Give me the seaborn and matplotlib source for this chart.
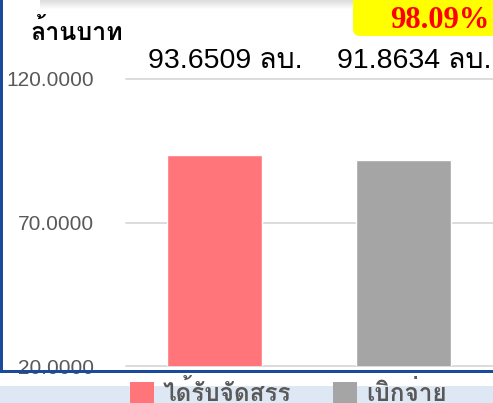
import matplotlib
matplotlib.use("Agg")
import matplotlib.pyplot as plt
import seaborn as sns
import pandas as pd
from matplotlib import font_manager as fm
from matplotlib.ft2font import FT2Font
from matplotlib.patches import Rectangle, FancyBboxPatch, Patch
from matplotlib.transforms import IdentityTransform

# ---- data ----
categories = ["ได้รับจัดสรร", "เบิกจ่าย"]
values = [93.6509, 91.8634]
value_labels = ["93.6509 ลบ.", "91.8634 ลบ."]
yticks = [20, 70, 120]
ytick_labels = ["20.0000", "70.0000", "120.0000"]
percent_label = "98.09%"
unit_label = "ล้านบาท"
colors = ["#FF7579", "#A5A5A5"]

# ---- find a Thai-capable font ----
thai_font = None
for f in fm.fontManager.ttflist:
    try:
        if 0x0E25 in FT2Font(f.fname).get_charmap():
            thai_font = f.name
            break
    except Exception:
        pass
fam = ["Liberation Sans"] + ([thai_font] if thai_font else []) + ["DejaVu Sans"]

sns.set_theme(style="white")
plt.rcParams["font.family"] = fam

W, H = 493, 403
fig = plt.figure(figsize=(W / 100, H / 100), dpi=100)
fig.patch.set_facecolor("white")

def px(x0, y0, w, h):
    return [x0 / W, 1 - (y0 + h) / H, w / W, h / H]

# legend background (light blue)
fig.add_artist(Rectangle((0, 0), 1, (H - 386) / H, transform=fig.transFigure,
                         facecolor="#DEE8F4", edgecolor="none", zorder=0))
# top shadow
for i in range(9):
    fig.add_artist(Rectangle((40 / W, 1 - (i + 1) / H), 318 / W, 1 / H,
                             transform=fig.transFigure, facecolor="#909090",
                             alpha=0.3 * (1 - i / 9), edgecolor="none", zorder=0))

ax = fig.add_axes(px(126, 79, 372, 287))
df = pd.DataFrame({"cat": categories, "val": values})
sns.barplot(data=df, x="cat", y="val", hue="cat", palette=colors, width=0.5,
            saturation=1, legend=False, ax=ax, zorder=3)
ax.set_xlim(-0.468, 1.5)
ax.set_ylim(20, 120)
ax.set_yticks(yticks)
ax.set_yticklabels(ytick_labels, color="#595959", fontsize=15)
ax.tick_params(axis="y", length=0, pad=23)
ax.set_xticks([])
ax.set_xlabel("")
ax.set_ylabel("")
for s in ax.spines.values():
    s.set_visible(False)
for yv in yticks:
    ax.axhline(yv, color="#D9D9D9", lw=1.3, zorder=1, clip_on=False)
ax.set_facecolor("none")

for i, lab in enumerate(value_labels):
    ax.text(i + 0.055, 123.8, lab, ha="center", va="baseline", fontsize=20.5,
            color="black", clip_on=False)

fig.text(30 / W, 1 - 40 / H, unit_label, ha="left", va="baseline",
         fontsize=18, fontweight="bold", color="black")

# blue frame
fig.add_artist(Rectangle((0, 1 - 373 / H), 3 / W, 373 / H, transform=fig.transFigure,
                         facecolor="#1A4A9C", edgecolor="none", zorder=5))
fig.add_artist(Rectangle((0, 1 - 373 / H), 1, 3 / H, transform=fig.transFigure,
                         facecolor="#1A4A9C", edgecolor="none", zorder=5))

# yellow badge
badge = FancyBboxPatch((353, H - 36), 220, 120, boxstyle="round,pad=0,rounding_size=7",
                       transform=IdentityTransform(), facecolor="#FFFF00",
                       edgecolor="none", zorder=6)
fig.add_artist(badge)
fig.text(440 / W, 1 - 28 / H, percent_label, ha="center", va="baseline",
         fontsize=22, fontweight="bold", color="#FF0000",
         family=["Liberation Serif", "DejaVu Serif"], zorder=7)

handles = [Patch(facecolor=c, edgecolor="none") for c in colors]
leg = fig.legend(handles, categories, loc="upper left",
                 bbox_to_anchor=(125 / W, 1 - 375 / H), ncol=2, frameon=False,
                 fontsize=17.5, handlelength=1.0, handleheight=1.0,
                 handletextpad=0.37, columnspacing=1.7, borderaxespad=0,
                 borderpad=0.2)
for t in leg.get_texts():
    t.set_color("#595959")
    t.set_fontweight("bold")

fig.savefig("out.png", dpi=100)
